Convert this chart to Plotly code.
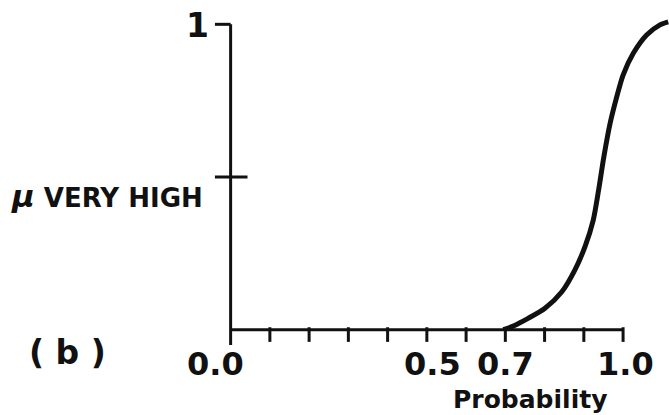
import plotly.graph_objects as go

# Membership curve "very high" vs probability
prob = [0.695, 0.722, 0.758, 0.801, 0.844, 0.877, 0.903, 0.924, 0.938, 0.951,
        0.967, 0.984, 1.000, 1.026, 1.060, 1.094, 1.115]
mu_very_high = [0.0, 0.013, 0.037, 0.070, 0.124, 0.195, 0.272, 0.359, 0.460, 0.566,
                0.676, 0.763, 0.834, 0.905, 0.965, 0.998, 1.008]

x_ticks = [0.0, 0.1, 0.2, 0.3, 0.4, 0.5, 0.6, 0.7, 0.8, 0.9, 1.0]
x_label_vals = [0.0, 0.5, 0.7, 1.0]
x_label_text = ["0.0", "0.5", "0.7", "1.0"]
x_label_shift = [-15, 6, 0, 2]
y_ticks = [0.5, 1.0]

FONT = "DejaVu Sans"
INK = "#111111"

fig = go.Figure()
fig.add_trace(go.Scatter(
    x=prob, y=mu_very_high, mode="lines",
    line=dict(color=INK, width=5, shape="spline", smoothing=0.8),
    cliponaxis=False, showlegend=False, hoverinfo="skip"))

shapes = []
shapes.append(dict(type="line", xref="x", yref="y", x0=0, x1=0, y0=-0.05, y1=1.0,
                   line=dict(color=INK, width=3)))
shapes.append(dict(type="line", xref="x", yref="y", x0=0, x1=x_ticks[-1], y0=0, y1=0,
                   line=dict(color=INK, width=3)))
for t in x_ticks[1:]:
    shapes.append(dict(type="line", xref="x", yref="y", x0=t, x1=t, y0=0.008, y1=-0.04,
                       line=dict(color=INK, width=3)))
for t in y_ticks:
    x1 = 0.043 if t < 1 else 0
    shapes.append(dict(type="line", xref="x", yref="y", x0=-0.04, x1=x1, y0=t, y1=t,
                       line=dict(color=INK, width=3)))

annotations = []
for v, txt, sh in zip(x_label_vals, x_label_text, x_label_shift):
    annotations.append(dict(x=v, y=-0.0468, xref="x", yref="paper", text=f"<b>{txt}</b>",
                            showarrow=False, xshift=sh,
                            font=dict(family=FONT, size=32, color=INK),
                            xanchor="center", yanchor="middle"))
annotations.append(dict(x=0.763, y=-0.152, xref="x", yref="paper", text="<b>Probability</b>",
                        showarrow=False, font=dict(family=FONT, size=25, color=INK),
                        xanchor="center", yanchor="middle"))
annotations.append(dict(x=-0.0295, y=0.944, xref="paper", yref="paper", text="<b>1</b>",
                        showarrow=False, font=dict(family=FONT, size=33, color=INK),
                        xanchor="center", yanchor="middle"))
annotations.append(dict(x=-0.0131, y=0.445, xref="paper", yref="paper",
                        text="<b><span style='font-size:31px'><i>μ</i></span> VERY HIGH</b>",
                        showarrow=False, font=dict(family=FONT, size=26, color=INK),
                        xanchor="right", yanchor="middle"))
annotations.append(dict(x=-0.314, y=-0.0146, xref="paper", yref="paper", text="<b>( b )</b>",
                        showarrow=False, font=dict(family=FONT, size=33, color=INK),
                        xanchor="center", yanchor="middle"))

fig.update_layout(
    width=669, height=415,
    margin=dict(l=211, r=0, t=6, b=67, pad=0),
    paper_bgcolor="white", plot_bgcolor="white",
    xaxis=dict(range=[-0.05, 1.117], visible=False, fixedrange=True),
    yaxis=dict(range=[-0.06, 1.06], visible=False, fixedrange=True),
    shapes=shapes, annotations=annotations,
)

fig.write_html("out.html", config={"displayModeBar": False},
               post_script="document.body.style.margin='0';document.body.style.overflow='hidden';")
